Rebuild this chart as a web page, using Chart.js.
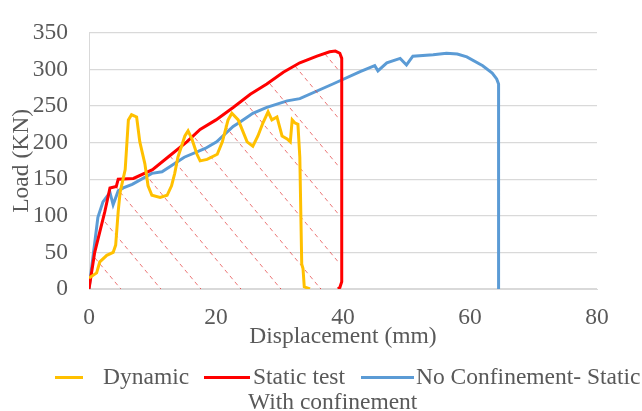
<!DOCTYPE html>
<html>
<head>
<meta charset="utf-8">
<script src="https://cdn.jsdelivr.net/npm/chart.js@4.4.1/dist/chart.umd.min.js"></script>
<style>
    body { margin: 0; background: #fff; }
    #wrap { position: relative; width: 642px; height: 411px; }
    .legend { position: absolute; font-family: 'Liberation Serif', 'Times New Roman', serif; font-size: 23.5px; color: #595959; line-height: 1; white-space: nowrap; }
    .swatch { position: absolute; height: 3px; }
</style>
</head>
<body>
<div id="wrap">
    <canvas id="chart" width="642" height="411"></canvas>
    <div class="swatch" style="left:55px;top:376px;width:28px;background:#FFC000"></div>
    <div class="legend" style="left:103px;top:365px">Dynamic</div>
    <div class="swatch" style="left:204px;top:376px;width:46px;background:#FF0000"></div>
    <div class="legend" style="left:253px;top:365px">Static test</div>
    <div class="legend" style="left:248px;top:390px">With confinement</div>
    <div class="swatch" style="left:361px;top:376px;width:53px;background:#5B9BD5"></div>
    <div class="legend" style="left:416px;top:365px">No Confinement- Static</div>
</div>
<script>
// values (x = displacement mm, y = load kN)
const dynamicX = [0, 1.2, 1.7, 2.8, 3.8, 4.2, 4.6, 4.9, 5.7, 6.2, 6.7, 7.5, 8, 8.8, 9.3, 9.9, 11.2, 12.3, 13, 13.5, 14, 15.1, 15.6, 16.2, 17, 17.5, 18.6, 20.2, 21, 21.9, 22.5, 23.5, 24.9, 25.8, 26.6, 27.4, 28.2, 28.8, 29.6, 30.4, 31.2, 31.7, 32, 32.4, 32.9, 33.2, 33.5, 33.7, 33.9, 34.8];
const dynamicY = [15, 22, 37, 46, 50, 60, 106, 132, 163, 231, 238, 235, 201, 171, 141, 128, 125, 128, 141, 158, 180, 209, 216, 205, 184, 175, 177, 184, 201, 231, 240, 231, 201, 195, 209, 227, 242, 231, 235, 209, 205, 201, 231, 227, 225, 180, 34, 28, 3, 0];

const staticX = [0, 0.9, 2.5, 3.3, 4.3, 4.6, 7, 10, 13, 15.4, 17.5, 20, 22.7, 25.4, 28, 30.6, 33.2, 35.9, 37.9, 38.8, 39.5, 39.8, 39.8, 39.5, 39.2];
const staticY = [0, 50, 106, 138, 140, 150, 151, 163, 184, 201, 218, 231, 248, 266, 280, 296, 309, 318, 324, 325, 322, 315, 10, 2, 0];

const noConfX = [0, 0.9, 1.4, 2.2, 3.3, 3.8, 4.6, 5.4, 6.8, 9.9, 11.5, 15, 18.3, 20.1, 22.7, 23.8, 25.8, 28, 31.2, 33.2, 38.4, 42.7, 45, 45.5, 46.9, 49, 50, 51, 54.2, 56.3, 58, 59.5, 62, 63.5, 64.2, 64.5, 64.5];
const noConfY = [0, 63, 98, 119, 132, 115, 134, 138, 143, 158, 160, 180, 192, 201, 222, 228, 240, 248, 257, 260, 280, 297, 305, 298, 309, 315, 306, 318, 320, 322, 321, 317, 305, 295, 287, 280, 0];

const xTicks = { min: 0, max: 80, step: 20 };
const yTicks = { min: 0, max: 350, step: 50 };

const toPoints = (xs, ys) => xs.map((x, i) => ({ x: x, y: ys[i] }));

const serif = "'Liberation Serif', 'Times New Roman', serif";
const axisFont = { family: serif, size: 23.5, lineHeight: 1 };
const grey = '#595959';

// dashed diagonal hatching under the static test curve
function makeHatch() {
    const c = document.createElement('canvas');
    c.width = 40;
    c.height = 48;
    const g = c.getContext('2d');
    g.strokeStyle = 'rgba(226,60,60,0.7)';
    g.lineWidth = 1;
    g.setLineDash([4.3, 3.5]);
    g.beginPath();
    g.moveTo(-40, -48);
    g.lineTo(80, 96);
    g.stroke();
    return g.createPattern(c, 'repeat');
}

const ctx = document.getElementById('chart').getContext('2d');
new Chart(ctx, {
    type: 'line',
    data: {
        datasets: [
            {
                label: 'Dynamic',
                data: toPoints(dynamicX, dynamicY),
                borderColor: '#FFC000',
                borderWidth: 3,
                pointRadius: 0,
                fill: false
            },
            {
                label: 'Static test With confinement',
                data: toPoints(staticX, staticY),
                borderColor: '#FF0000',
                backgroundColor: makeHatch(),
                borderWidth: 3,
                pointRadius: 0,
                fill: 'origin'
            },
            {
                label: 'No Confinement- Static',
                data: toPoints(noConfX, noConfY),
                borderColor: '#5B9BD5',
                borderWidth: 3,
                pointRadius: 0,
                fill: false
            }
        ]
    },
    options: {
        responsive: false,
        animation: false,
        layout: { padding: { left: 0, right: 45, top: 18, bottom: 62 } },
        plugins: { legend: { display: false }, tooltip: { enabled: false } },
        scales: {
            x: {
                type: 'linear',
                min: xTicks.min,
                max: xTicks.max,
                ticks: { stepSize: xTicks.step, padding: 17, color: grey, font: axisFont, maxRotation: 0 },
                grid: { display: false, drawTicks: false },
                border: { display: true, color: '#d9d9d9' },
                title: { display: true, text: 'Displacement (mm)', color: grey, font: axisFont, padding: { top: 0, bottom: 0 } },
                afterFit(scale) { scale.height = 60; }
            },
            y: {
                min: yTicks.min,
                max: yTicks.max,
                ticks: { stepSize: yTicks.step, padding: 21, color: grey, font: axisFont },
                grid: { color: '#d9d9d9', lineWidth: 1.3, drawTicks: false },
                border: { display: true, color: '#d9d9d9' },
                title: { display: true, text: 'Load (KN)', color: grey, font: axisFont, padding: { top: 10, bottom: 0 } },
                afterFit(scale) { scale.width = 89; }
            }
        }
    }
});
</script>
</body>
</html>
